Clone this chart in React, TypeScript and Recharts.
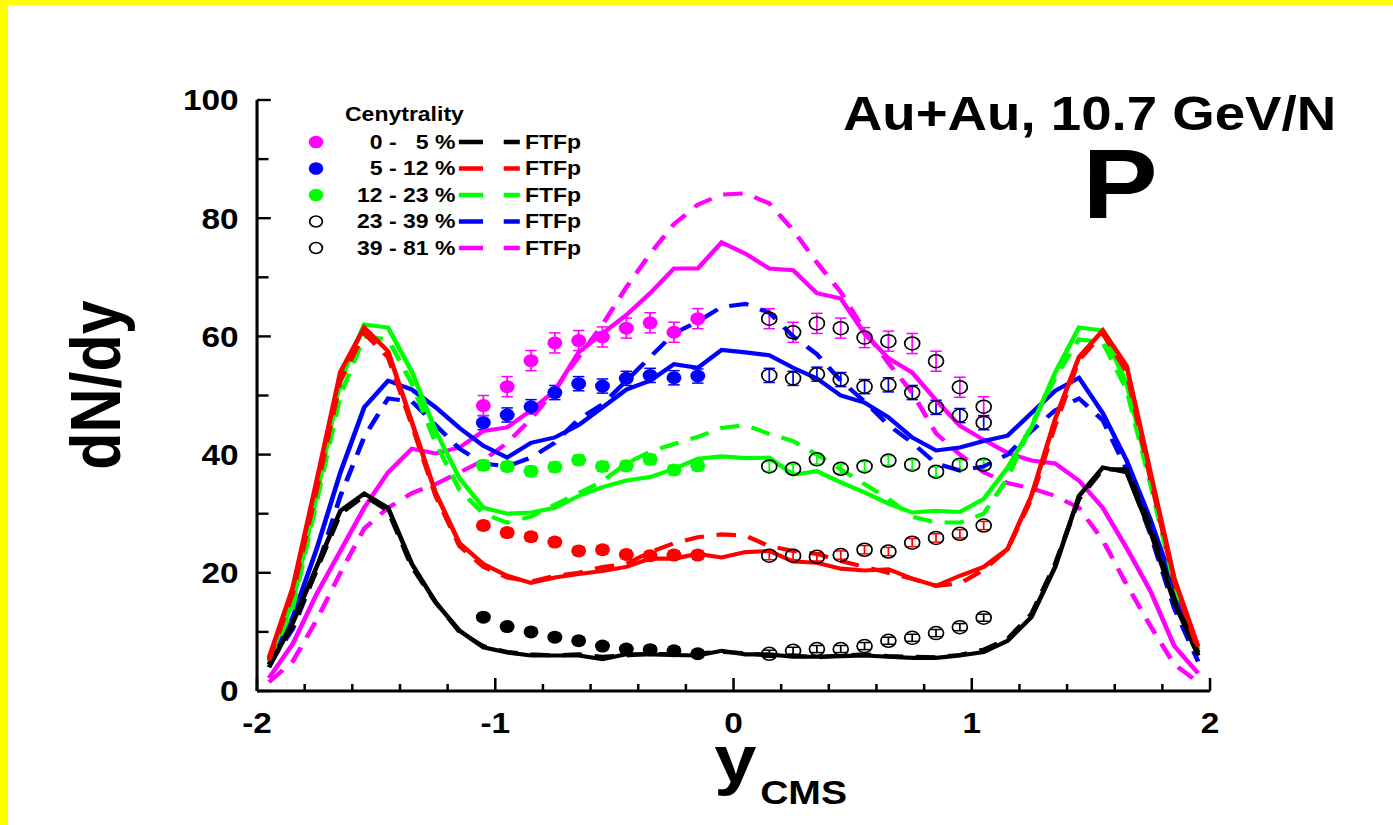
import React from 'react';
import { ComposedChart, Line, Scatter, XAxis, YAxis, ErrorBar } from 'recharts';

// rapidity grid of the model curves
const lineX = [-1.95, -1.85, -1.75, -1.65, -1.55, -1.45, -1.35, -1.25, -1.15, -1.05, -0.95, -0.85, -0.75, -0.65, -0.55, -0.45, -0.35, -0.25, -0.15, -0.05, 0.05, 0.15, 0.25, 0.35, 0.45, 0.55, 0.65, 0.75, 0.85, 0.95, 1.05, 1.15, 1.25, 1.35, 1.45, 1.55, 1.65, 1.75, 1.85, 1.95];

const blackSolid = [4, 11.5, 21, 30.5, 33.4, 31, 21.5, 15, 10.2, 7.4, 6.5, 6.0, 6.0, 6.0, 5.4, 6.2, 6.2, 6.1, 6.0, 6.8, 6.2, 6.2, 5.8, 5.8, 5.9, 6.0, 5.8, 5.6, 5.6, 6.0, 6.6, 8.5, 12.5, 21, 33, 37.8, 37, 27, 15, 6];
const blackDash = [4.5, 11, 20.5, 30, 33, 30.5, 21, 15, 10, 7.6, 6.6, 6.2, 6.0, 6.2, 5.8, 6.0, 6.3, 6.2, 6.4, 6.6, 6.4, 6.0, 6.0, 5.7, 6.0, 6.2, 5.9, 5.8, 5.7, 6.1, 7.0, 8.8, 13, 21.5, 32.5, 37.5, 37.5, 28, 15.5, 6.5];
const redSolid = [5.6, 17.5, 35.5, 54, 61.5, 57.5, 45.5, 33.5, 25, 21.5, 19.5, 18.3, 19.2, 19.8, 20.3, 21, 22.4, 22.4, 23.2, 22.6, 23.5, 23.7, 21.9, 21.7, 20.7, 20.4, 20.6, 19.0, 17.8, 19.5, 21, 24, 33, 46, 56.5, 61, 55, 37, 19, 7.5];
const redDash = [5.2, 16.5, 34, 52.5, 60.5, 56.5, 45, 33, 24.5, 21, 19.2, 18.5, 19.5, 20, 21, 21.5, 23.5, 25, 26, 26.5, 26.3, 24.5, 23.7, 23.2, 22, 21, 20, 19, 17.8, 18.2, 20.5, 24, 32.5, 45, 56, 60.5, 54, 36, 18.5, 7];
const greenSolid = [5.5, 15, 33, 52.5, 62, 61.5, 54, 44, 36, 31, 30, 30.2, 31, 33, 34.5, 35.6, 36.2, 37.6, 39.3, 39.7, 39.4, 39.5, 36.6, 37.2, 35.3, 33.6, 31.7, 30.2, 30.5, 30.3, 32.5, 37.8, 44.6, 53.9, 61.5, 61, 52, 36, 19, 7];
const greenDash = [5, 14, 32, 50, 60, 59.5, 52, 42, 34, 30, 28.5, 29.5, 31.5, 33.5, 35.5, 38.5, 40.5, 41.8, 43, 44.5, 45, 43.5, 42.3, 40, 37.5, 35, 32.5, 29.5, 28.5, 28.5, 30, 36, 45, 53, 59.5, 59, 51, 35, 18, 7];
const blueSolid = [5, 12.5, 24, 37, 48, 52.5, 51, 48, 44.5, 41.5, 39.5, 42, 42.9, 45, 48, 51, 52.5, 55.3, 54.7, 57.7, 57.3, 56.8, 54.7, 52.9, 50, 48.8, 46.3, 42.9, 40.7, 41.2, 42.3, 43.2, 47, 50.8, 53, 47, 39, 29, 17.5, 6];
const blueDash = [4.5, 10.5, 20.5, 33, 43, 49.5, 49, 45, 41, 38.5, 38, 39.5, 42, 46, 48.5, 52.5, 56.5, 60.5, 62.5, 65, 65.5, 64, 60, 57, 52.5, 49, 45, 42, 38.5, 37.3, 38, 40, 44, 47.5, 49.5, 45.8, 37.5, 26.5, 14, 5];
const magentaSolid = [2.2, 8, 16.4, 23.7, 31, 37, 41, 40.2, 41.2, 44, 44.6, 47.5, 50.8, 57.3, 60.5, 63.6, 67.3, 71.5, 71.5, 75.9, 74, 71.5, 71.2, 67.3, 66.4, 60.5, 56.3, 53.9, 49.2, 44.9, 42.5, 40.3, 39, 38.5, 35.6, 31, 24.2, 16.9, 7.6, 3];
const magentaDash = [1.5, 5, 12, 20, 27.5, 31, 33.5, 35, 37, 39, 42, 46, 51, 56.5, 62, 68.3, 74, 79, 82.3, 84, 84.2, 82.5, 78, 72.5, 67.5, 61, 55.5, 50.5, 43.6, 40, 37, 35.2, 34.3, 33, 31, 25.5, 18, 11, 4.5, 1.5];

// measured points (filled: backward hemisphere, open: reflected)
const dataXNeg = [-1.05, -0.95, -0.85, -0.75, -0.65, -0.55, -0.45, -0.35, -0.25, -0.15];
const dataXPos = [0.15, 0.25, 0.35, 0.45, 0.55, 0.65, 0.75, 0.85, 0.95, 1.05];

const blackNeg = [12.5, 10.9, 10.0, 9.1, 8.5, 7.6, 7.1, 7.0, 6.8, 6.3];
const redNeg = [28, 26.8, 26.1, 25.2, 23.7, 23.9, 23.1, 22.9, 23.0, 23.0];
const greenNeg = [38.2, 38.0, 37.2, 37.9, 39.1, 38.0, 38.1, 39.2, 37.4, 38.1];
const blueNeg = [45.4, 46.7, 48.1, 50.5, 52.0, 51.6, 52.9, 53.4, 53.0, 53.3];
const magentaNeg = [48.3, 51.5, 55.9, 58.9, 59.3, 59.9, 61.4, 62.3, 60.7, 63.0];

const blackPos = [6.3, 6.8, 7.1, 7.1, 7.6, 8.5, 9.0, 9.8, 10.8, 12.4];
const redPos = [22.9, 22.9, 22.7, 23.0, 23.9, 23.6, 25.1, 25.9, 26.6, 28.0];
const greenPos = [38.0, 37.6, 39.2, 37.6, 38.0, 39.0, 38.3, 37.1, 38.3, 38.3];
const bluePos = [53.4, 52.9, 53.6, 52.7, 51.5, 51.8, 50.5, 48.0, 46.6, 45.4];
const magentaPos = [63.0, 60.7, 62.2, 61.4, 59.8, 59.2, 58.8, 55.8, 51.4, 48.1];

const errBlack = 0.6;
const errRed = 0.7;
const errGreen = 0.8;
const errBlue = 1.2;
const errMagenta = 1.7;

const xTicks = [-2, -1.8, -1.6, -1.4, -1.2, -1, -0.8, -0.6, -0.4, -0.2, 0, 0.2, 0.4, 0.6, 0.8, 1, 1.2, 1.4, 1.6, 1.8, 2];
const yTicks = [0, 10, 20, 30, 40, 50, 60, 70, 80, 90, 100];

const legendRows = ['0 -   5 %', '5 - 12 %', '12 - 23 %', '23 - 39 %', '39 - 81 %'];
const legendMarkers = ['#ff00ff', '#0000ff', '#00ff00', 'open', 'open'];
const legendLines = ['#000000', '#ff0000', '#00ff00', '#0000ff', '#ff00ff'];

const rows = (xs: number[], ys: number[], err?: number) => xs.map((x, i) => ({ x, v: ys[i], err }));

const FONT = '"Liberation Sans", Arial, sans-serif';
const STRETCH = 1.15;
const X_MARGIN = 21;
const Y_MARGIN = 16;

const XTick = (props: any) => {
  const { x, y, payload } = props;
  const axisY = y - X_MARGIN;
  const major = Number.isInteger(payload.value);
  return (
    <g>
      <line x1={x} x2={x} y1={axisY} y2={axisY - (major ? 13 : 7)} stroke="#000" strokeWidth={2.2} />
      {major && (
        <text x={x} y={y + 21} textAnchor="middle" fontFamily={FONT} fontWeight="bold" fontSize={29} fill="#000">
          {payload.value}
        </text>
      )}
    </g>
  );
};

const YTick = (props: any) => {
  const { x, y, payload } = props;
  const axisX = x + Y_MARGIN;
  const major = payload.value % 20 === 0;
  return (
    <g>
      <line x1={axisX} x2={axisX + (major ? 12 : 10)} y1={y} y2={y} stroke="#000" strokeWidth={2.4} />
      {major && (
        <text x={x} y={y + 10.4} textAnchor="end" fontFamily={FONT} fontWeight="bold" fontSize={29} fill="#000">
          {payload.value}
        </text>
      )}
    </g>
  );
};

const filledDot = (color: string) => (p: any) => <circle cx={p.cx} cy={p.cy} r={6.5} fill={color} />;
const openDot = (p: any) => <circle cx={p.cx} cy={p.cy} r={6.5} fill="none" stroke="#000" strokeWidth={1.5} />;

const pointSeries = [
  { xs: dataXNeg, ys: blackNeg, err: errBlack, color: '#000000', open: false },
  { xs: dataXNeg, ys: redNeg, err: errRed, color: '#ff0000', open: false },
  { xs: dataXNeg, ys: greenNeg, err: errGreen, color: '#00ff00', open: false },
  { xs: dataXNeg, ys: blueNeg, err: errBlue, color: '#0000ff', open: false },
  { xs: dataXNeg, ys: magentaNeg, err: errMagenta, color: '#ff00ff', open: false },
  { xs: dataXPos, ys: blackPos, err: errBlack, color: '#000000', open: true },
  { xs: dataXPos, ys: redPos, err: errRed, color: '#ff0000', open: true },
  { xs: dataXPos, ys: greenPos, err: errGreen, color: '#00ff00', open: true },
  { xs: dataXPos, ys: bluePos, err: errBlue, color: '#0000ff', open: true },
  { xs: dataXPos, ys: magentaPos, err: errMagenta, color: '#ff00ff', open: true },
];

const lineSeries = [
  { ys: magentaDash, color: '#ff00ff', dashed: true },
  { ys: magentaSolid, color: '#ff00ff', dashed: false },
  { ys: blueDash, color: '#0000ff', dashed: true },
  { ys: blueSolid, color: '#0000ff', dashed: false },
  { ys: greenDash, color: '#00ff00', dashed: true },
  { ys: greenSolid, color: '#00ff00', dashed: false },
  { ys: blackDash, color: '#000000', dashed: true },
  { ys: blackSolid, color: '#000000', dashed: false },
  { ys: redDash, color: '#ff0000', dashed: true },
  { ys: redSolid, color: '#ff0000', dashed: false },
];

export default function App() {
  return (
    <div style={{ position: 'absolute', left: 0, top: 0, width: 1393, height: 825, background: '#ffff00', overflow: 'hidden' }}>
      <div style={{ position: 'absolute', left: 8, top: 5, right: 0, bottom: 0, background: '#ffffff' }} />
      <div style={{ position: 'absolute', left: 0, top: 0, width: 1211, height: 825, transform: `scaleX(${STRETCH})`, transformOrigin: '0 0' }}>
        <ComposedChart width={1211} height={825} margin={{ top: 100, right: 158.8, bottom: 94, left: 123.5 }}>
          <XAxis
            type="number"
            dataKey="x"
            domain={[-2, 2]}
            allowDataOverflow
            ticks={xTicks}
            interval={0}
            height={40}
            tickSize={0}
            tickMargin={X_MARGIN}
            tick={<XTick />}
            axisLine={{ stroke: '#000', strokeWidth: 3 }}
          />
          <YAxis
            type="number"
            domain={[0, 100]}
            allowDataOverflow
            ticks={yTicks}
            interval={0}
            width={100}
            tickSize={0}
            tickMargin={Y_MARGIN}
            tick={<YTick />}
            axisLine={{ stroke: '#000', strokeWidth: 2.7 }}
          />
          {pointSeries.map((s, i) => (
            <Scatter
              key={'p' + i}
              data={rows(s.xs, s.ys, s.err)}
              dataKey="v"
              isAnimationActive={false}
              shape={s.open ? openDot : filledDot(s.color)}
            >
              <ErrorBar dataKey="err" direction="y" width={5} stroke={s.color} strokeWidth={1.5} />
            </Scatter>
          ))}
          {lineSeries.map((s, i) => (
            <Line
              key={'l' + i}
              data={rows(lineX, s.ys)}
              dataKey="v"
              type="linear"
              stroke={s.color}
              strokeWidth={4.1}
              strokeDasharray={s.dashed ? '17 11' : undefined}
              dot={false}
              activeDot={false}
              isAnimationActive={false}
            />
          ))}
        </ComposedChart>
        <svg width={1211} height={825} style={{ position: 'absolute', left: 0, top: 0, pointerEvents: 'none' }}>
          <g fontFamily={FONT} fontWeight="bold" fill="#000">
            <text x={733} y={130} fontSize={47.5}>Au+Au, 10.7 GeV/N</text>
            <text x={974} y={218} fontSize={98} textAnchor="middle">P</text>
            <text transform="translate(104.3,385) rotate(-90)" fontSize={61} textAnchor="middle">dN/dy</text>
            <text x={621} y={782} fontSize={66}>y</text>
            <text x={661} y={804} fontSize={34}>CMS</text>
            <text x={300} y={121} fontSize={20}>Cenytrality</text>
            {legendRows.map((label, i) => {
              const cy = 142 + i * 26.5;
              const m = legendMarkers[i];
              return (
                <g key={label}>
                  {m === 'open' ? (
                    <circle cx={274.8} cy={cy} r={5.5} fill="none" stroke="#000" strokeWidth={1.5} />
                  ) : (
                    <circle cx={274.8} cy={cy} r={6.3} fill={m} />
                  )}
                  <text x={396} y={cy + 7} fontSize={20} textAnchor="end" style={{ whiteSpace: 'pre' }}>{label}</text>
                  <line x1={399} x2={420} y1={cy} y2={cy} stroke={legendLines[i]} strokeWidth={4.5} />
                  <line x1={438} x2={452} y1={cy} y2={cy} stroke={legendLines[i]} strokeWidth={4.5} />
                  <text x={456.5} y={cy + 7} fontSize={20}>FTFp</text>
                </g>
              );
            })}
          </g>
        </svg>
      </div>
    </div>
  );
}
